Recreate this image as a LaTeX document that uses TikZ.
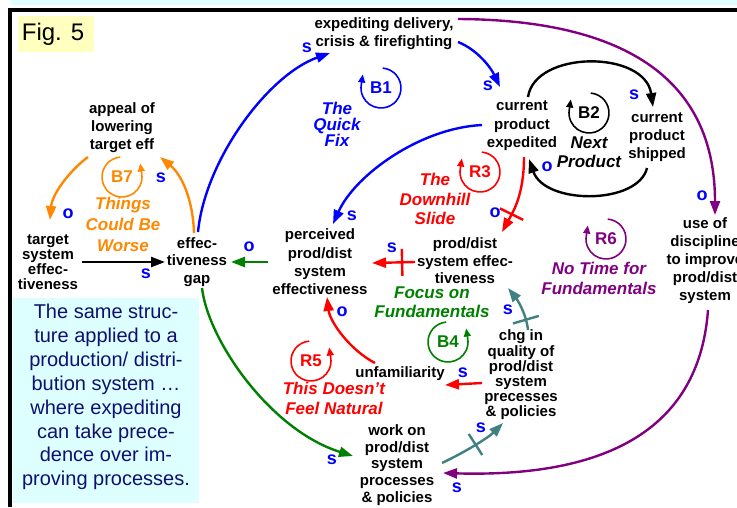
\documentclass[tikz,border=0pt]{standalone}
\usepackage{fontspec}
\setmainfont{Liberation Sans}
\usetikzlibrary{arrows.meta,calc}

\definecolor{sdblue}{RGB}{0,0,255}
\definecolor{sdred}{RGB}{255,0,0}
\definecolor{sdgreen}{RGB}{0,128,0}
\definecolor{sdorange}{RGB}{255,136,0}
\definecolor{sdpurple}{RGB}{128,0,128}
\definecolor{sdteal}{RGB}{64,128,128}
\definecolor{notecyan}{RGB}{221,255,255}
\definecolor{notenavy}{RGB}{16,16,112}
\definecolor{figyellow}{RGB}{255,255,192}

\begin{document}
\begin{tikzpicture}[x=1pt,y=1pt,
        var/.style={align=center, inner sep=1pt, font=\fontsize{15}{18}\selectfont\bfseries},
        arr/.style={line width=2.4pt, -{Triangle[length=14pt,width=10pt]}},
        pol/.style={text=sdblue, inner sep=0pt, font=\fontsize{18}{18}\selectfont\bfseries},
        loopname/.style={align=center, font=\fontsize{17}{19}\selectfont\bfseries\itshape},
        looplabel/.style={inner sep=0pt, font=\fontsize{17}{17}\selectfont\bfseries},
        loopring/.style={line width=1.6pt, -{Triangle[length=8pt,width=7pt]}},
        delaybar/.style={sloped, inner sep=0pt}]

        \useasboundingbox (0,0) rectangle (737,-507);

        % Frame and the two boxes
        \fill[notecyan] (11,0) rectangle (737,-5);
        \draw[line width=3.3pt] (10,-507) -- (10,-10) -- (737,-10);
        \fill[figyellow] (18,-16) rectangle (94,-52);
        \node[font=\fontsize{24}{24}\selectfont] (fig) at (53,-34) {Fig. 5};
        \fill[notecyan] (13,-298) rectangle (199,-503);
        \node[text=notenavy, align=center, font=\fontsize{20}{23.9}\selectfont]
            (note) at (106,-397) {The same struc-\\ture applied to a\\production/ distri-\\bution system …\\where expediting\\can take prece-\\dence over im-\\proving processes.};

        % Variables
        \node[var] (appeal) at (122,-128) {appeal of\\lowering\\target eff};
        \node[var, font=\fontsize{15}{15.2}\selectfont\bfseries] (target) at (48,-262) {target\\system\\effec-\\tiveness};
        \node[var, font=\fontsize{15}{17.5}\selectfont\bfseries] (gap) at (197,-262) {effec-\\tiveness\\gap};
        \node[var] (expediting) at (384,-34) {expediting delivery,\\crisis \& firefighting};
        \node[var, font=\fontsize{15}{18.5}\selectfont\bfseries] (cpe) at (522,-126) {current\\product\\expedited};
        \node[var] (cps) at (657,-137) {current\\product\\shipped};
        \node[var] (discipline) at (705,-261) {use of\\discipline\\to improve\\prod/dist\\system};
        \node[var, font=\fontsize{15}{18.3}\selectfont\bfseries] (perceived) at (320,-262) {perceived\\prod/dist\\system\\effectiveness};
        \node[var, font=\fontsize{15}{17.5}\selectfont\bfseries] (pdse) at (465,-261) {prod/dist\\system effec-\\tiveness};
        \node[var] (unfam) at (400,-374) {unfamiliarity};
        \node[var, font=\fontsize{15}{15.2}\selectfont\bfseries] (chg) at (521,-375) {chg in\\quality of\\prod/dist\\system\\precesses\\\& policies};
        \node[var, font=\fontsize{15}{16.7}\selectfont\bfseries] (work) at (397,-465) {work on\\prod/dist\\system\\processes\\\& policies};

        % Links
        \draw[arr, sdblue] ($(gap)+(1,30)$) .. controls (205,-160) and (268,-75) .. ($(expediting)+(-54,-19)$);
        \draw[arr, sdblue] ($(expediting)+(74,-8)$) .. controls (478,-50) and (491,-68) .. ($(cpe)+(-22,39)$);
        \draw[arr, sdblue] ($(cpe)+(-40,1)$) .. controls (420,-128) and (355,-175) .. ($(perceived)+(13,38)$);
        \draw[arr] ($(cpe)+(6,29)$) .. controls (535,-50) and (645,-50) .. ($(cps)+(-4,30)$);
        \draw[arr] ($(cps)+(-10,-31)$) .. controls (638,-205) and (545,-205) .. ($(cpe)+(7,-33)$);
        \draw[arr, sdpurple] ($(expediting)+(74,15)$) .. controls (640,-20) and (715,-90) .. ($(discipline)+(10,46)$);
        \draw[arr, sdpurple] ($(discipline)+(3,-49)$) .. controls (700,-420) and (620,-478) .. ($(work)+(46,-8)$);
        \draw[arr, sdred] ($(cpe)+(2,-31)$) .. controls (524,-195) and (513,-212) .. ($(pdse)+(37,29)$)
            node[delaybar, pos=0.7] (delay1) {\rule{2.4pt}{26pt}};
        \draw[arr, sdred] ($(pdse)+(-50,-1)$) -- ($(perceived)+(52,-1)$)
            node[delaybar, pos=0.3] (delay2) {\rule{2.4pt}{27pt}};
        \draw[arr, sdgreen] ($(perceived)+(-52,0)$) -- ($(gap)+(34,0)$);
        \draw[arr] ($(target)+(34,0)$) -- ($(gap)+(-32,0)$);
        \draw[arr, sdorange] ($(appeal)+(-34,-29)$) .. controls (68,-172) and (52,-195) .. ($(target)+(2,42)$);
        \draw[arr, sdorange] ($(gap)+(-3,29)$) .. controls (193,-200) and (182,-175) .. ($(appeal)+(38,-29)$);
        \draw[arr, sdgreen] ($(gap)+(5,-26)$) .. controls (208,-340) and (270,-430) .. ($(work)+(-44,9)$);
        \draw[arr, sdred] ($(unfam)+(-25,11)$) .. controls (350,-350) and (330,-322) .. ($(perceived)+(7,-35)$);
        \draw[arr, sdred] ($(chg)+(-39,-8)$) -- ($(unfam)+(45,-11)$);
        \draw[arr, sdteal] ($(chg)+(7,45)$) .. controls (526,-312) and (516,-298) .. ($(pdse)+(43,-27)$)
            node[delaybar, pos=0.2] (delay3) {\rule{2.4pt}{27pt}};
        \draw[arr, sdteal] ($(work)+(45,2)$) .. controls (465,-452) and (488,-438) .. ($(chg)+(-18,-48)$)
            node[delaybar, pos=0.5] (delay4) {\rule{2.4pt}{25pt}};

        % Polarities
        \node[pol] (p1) at (307,-48) {s};
        \node[pol] (p2) at (488,-86) {s};
        \node[pol] (p3) at (634,-95) {s};
        \node[pol] (p4) at (547,-167) {o};
        \node[pol] (p5) at (702,-196) {o};
        \node[pol] (p6) at (495,-213) {o};
        \node[pol] (p7) at (392,-248) {s};
        \node[pol] (p8) at (352,-216) {s};
        \node[pol] (p9) at (249,-247) {o};
        \node[pol] (p10) at (146,-274) {s};
        \node[pol] (p11) at (68,-214) {o};
        \node[pol] (p12) at (161,-178) {s};
        \node[pol] (p13) at (342,-312) {o};
        \node[pol] (p14) at (463,-373) {s};
        \node[pol] (p15) at (508,-310) {s};
        \node[pol] (p16) at (481,-428) {s};
        \node[pol] (p17) at (332,-460) {s};
        \node[pol] (p18) at (457,-488) {s};

        % Loops
        \node[looplabel, text=sdblue] (B1) at (381,-88) {B1};
        \draw[loopring, sdblue] ($(B1)+(85:20)$) arc[start angle=85, end angle=-190, radius=20] -- ++(1.5,10);
        \node[loopname, text=sdblue, font=\fontsize{17}{16}\selectfont\bfseries\itshape] (quickfix) at (337,-124) {The\\Quick\\Fix};

        \node[looplabel] (B2) at (589,-113) {B2};
        \draw[loopring] ($(B2)+(85:20)$) arc[start angle=85, end angle=-190, radius=20] -- ++(1.5,10);
        \node[loopname] (nextproduct) at (589,-152) {Next\\Product};

        \node[looplabel, text=sdred] (R3) at (480,-172) {R3};
        \draw[loopring, sdred] ($(R3)+(85:20)$) arc[start angle=85, end angle=-190, radius=20] -- ++(1.5,10);
        \node[loopname, text=sdred, font=\fontsize{17}{19.5}\selectfont\bfseries\itshape] (downhill) at (435,-199) {The\\Downhill\\Slide};

        \node[looplabel, text=sdorange] (B7) at (122,-177) {B7};
        \draw[loopring, sdorange] ($(B7)+(95:20)$) arc[start angle=95, end angle=370, radius=20] -- ++(-1.5,10);
        \node[loopname, text=sdorange, font=\fontsize{17}{21}\selectfont\bfseries\itshape] (worse) at (123,-224) {Things\\Could Be\\Worse};

        \node[looplabel, text=sdpurple] (R6) at (606,-239) {R6};
        \draw[loopring, sdpurple] ($(R6)+(85:20)$) arc[start angle=85, end angle=-190, radius=20] -- ++(1.5,10);
        \node[loopname, text=sdpurple, font=\fontsize{17}{20}\selectfont\bfseries\itshape] (notime) at (599,-278) {No Time for\\Fundamentals};

        \node[loopname, text=sdgreen] (focus) at (432,-302) {Focus on\\Fundamentals};
        \node[looplabel, text=sdgreen] (B4) at (448,-342) {B4};
        \draw[loopring, sdgreen] ($(B4)+(95:20)$) arc[start angle=95, end angle=370, radius=20] -- ++(-1.5,10);

        \node[looplabel, text=sdred] (R5) at (311,-361) {R5};
        \draw[loopring, sdred] ($(R5)+(95:20)$) arc[start angle=95, end angle=370, radius=20] -- ++(-1.5,10);
        \node[loopname, text=sdred, font=\fontsize{17}{20}\selectfont\bfseries\itshape] (natural) at (334,-398) {This Doesn't\\Feel Natural};

\end{tikzpicture}
\end{document}
